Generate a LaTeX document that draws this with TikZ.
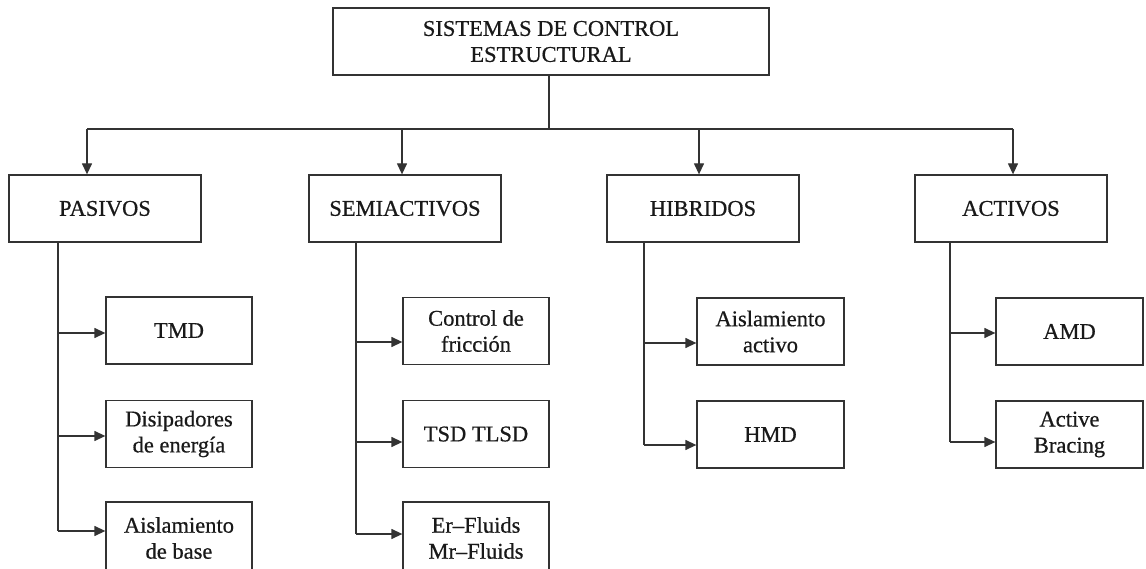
\documentclass[tikz,border=0pt]{standalone}
\usepackage{fontspec}
\newfontfamily\diafont{Liberation Serif}[FakeBold=0.6]
\usetikzlibrary{arrows.meta}
\begin{document}
\begin{tikzpicture}[x=1pt,y=-1pt,
  box/.style={draw=black!80, line width=1.3pt, align=center, inner sep=0pt,
    text=black!90, font=\diafont\fontsize{22.5}{26}\selectfont},
  lvl/.style={box, minimum width=192pt, minimum height=67pt},
  leaf/.style={box, minimum width=146pt, minimum height=67pt},
  conn/.style={draw=black!80, line width=1.3pt},
  arr/.style={conn, -{Triangle[length=11pt,width=10pt]}}]
\clip (0,0) rectangle (1146,569);
\fill[white] (0,0) rectangle (1146,569);
% top
\node[box, minimum width=436pt, minimum height=67pt] (top) at (551,41.5) {SISTEMAS DE CONTROL\\ESTRUCTURAL};
% level 2
\node[lvl] (pas) at (105,208.5) {PASIVOS};
\node[lvl] (sem) at (405,208.5) {SEMIACTIVOS};
\node[lvl] (hib) at (703,208.5) {HIBRIDOS};
\node[lvl] (act) at (1011,208.5) {ACTIVOS};
% leaves
\node[leaf] (tmd) at (179,330.5) {TMD};
\node[leaf] (dis) at (179,434) {Disipadores\\de energía};
\node[leaf, minimum height=72pt] (ais) at (179,538) {Aislamiento\\de base};
\node[leaf] (ctl) at (476,331) {Control de\\fricción};
\node[leaf] (tsd) at (476,434) {TSD TLSD};
\node[leaf, minimum height=72pt] (erf) at (476,538) {Er–Fluids\\Mr–Fluids};
\node[leaf, minimum width=147pt] (aia) at (770.5,331.5) {Aislamiento\\activo};
\node[leaf, minimum width=147pt] (hmd) at (770.5,434.5) {HMD};
\node[leaf, minimum width=147pt] (amd) at (1069.5,331.5) {AMD};
\node[leaf, minimum width=147pt] (abr) at (1069.5,434.5) {Active\\Bracing};
% bus
\coordinate (bus) at (549,129);
\coordinate (dp) at (87,129);
\coordinate (ds) at (402,129);
\coordinate (dh) at (699,129);
\coordinate (da) at (1013,129);
\draw[conn] (bus |- top.south) -- (bus);
\draw[conn] (dp) -- (da);
\draw[arr] (dp) -- (dp |- pas.north);
\draw[arr] (ds) -- (ds |- sem.north);
\draw[arr] (dh) -- (dh |- hib.north);
\draw[arr] (da) -- (da |- act.north);
% stems
\coordinate (sp) at (58,0);
\coordinate (ss) at (356,0);
\coordinate (sh) at (644,0);
\coordinate (sa) at (950,0);
\coordinate (p1) at ([yshift=-2.5pt]tmd.west);
\coordinate (p2) at ([yshift=-2pt]dis.west);
\coordinate (p3) at ([yshift=7pt]ais.west);
\coordinate (s1) at ([yshift=-11pt]ctl.west);
\coordinate (s2) at ([yshift=-8pt]tsd.west);
\coordinate (s3) at ([yshift=4pt]erf.west);
\coordinate (h1) at ([yshift=-11.5pt]aia.west);
\coordinate (h2) at ([yshift=-10.5pt]hmd.west);
\coordinate (a1) at ([yshift=-1.5pt]amd.west);
\coordinate (a2) at ([yshift=-7.5pt]abr.west);
\draw[conn] (sp |- pas.south) -- (sp |- p3);
\draw[conn] (ss |- sem.south) -- (ss |- s3);
\draw[conn] (sh |- hib.south) -- (sh |- h2);
\draw[conn] (sa |- act.south) -- (sa |- a2);
\draw[arr] (sp |- p1) -- (p1);
\draw[arr] (sp |- p2) -- (p2);
\draw[arr] (sp |- p3) -- (p3);
\draw[arr] (ss |- s1) -- (s1);
\draw[arr] (ss |- s2) -- (s2);
\draw[arr] (ss |- s3) -- (s3);
\draw[arr] (sh |- h1) -- (h1);
\draw[arr] (sh |- h2) -- (h2);
\draw[arr] (sa |- a1) -- (a1);
\draw[arr] (sa |- a2) -- (a2);
\end{tikzpicture}
\end{document}
